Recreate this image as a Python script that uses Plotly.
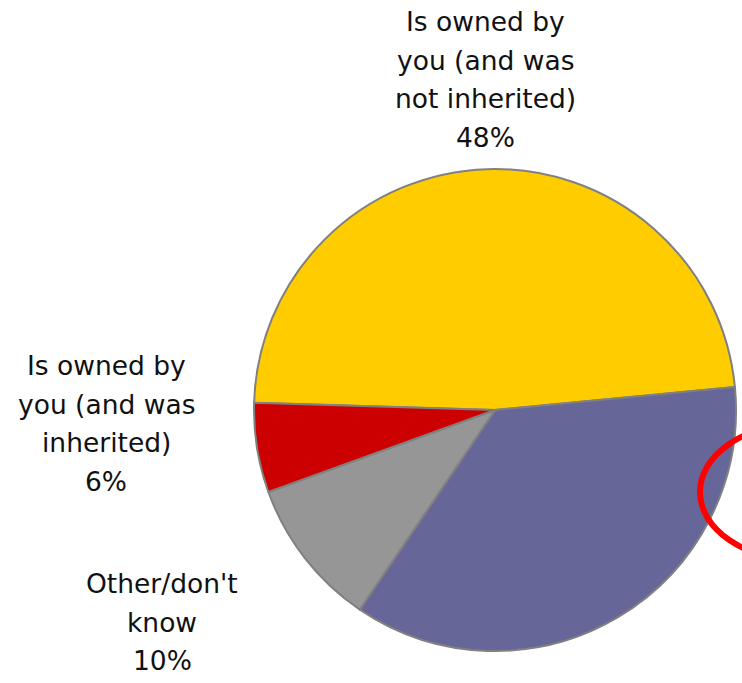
import plotly.graph_objects as go

# Pie data: share of respondents by ownership of the property
categories = ["Is owned by you (and was not inherited)", "Is rented", "Other/don't know",
              "Is owned by you (and was inherited)"]
values = [48, 36, 10, 6]
colors = ["#FFCC00", "#666699", "#969696", "#CC0000"]

# Wrapped label lines for the slices whose labels are shown
label_lines = {
    0: ["Is owned by", "you (and was", "not inherited)"],
    3: ["Is owned by", "you (and was", "inherited)"],
    2: ["Other/don't", "know"],
}

W, H = 742, 683
CX, CY, R = 495, 410, 241  # pie centre / radius in pixels

fig = go.Figure(go.Pie(
    labels=categories,
    values=values,
    sort=False,
    direction="clockwise",
    rotation=-88.3,
    marker=dict(colors=colors, line=dict(color="#808080", width=2)),
    textinfo="none",
    hoverinfo="label+percent",
    showlegend=False,
    domain=dict(x=[(CX - R) / W, (CX + R) / W],
                y=[(H - CY - R) / H, (H - CY + R) / H]),
))

# label block placement: (centre x, first baseline y) in pixels, line pitch
label_pos = {0: (485, 31.5), 3: (106, 375.5), 2: (162, 593.5)}
PITCH = 38.5
FS = 26.5

annotations = []
for idx, (lx, ly) in label_pos.items():
    lines = label_lines[idx] + [f"{values[idx]}%"]
    for k, line in enumerate(lines):
        base = ly + k * PITCH
        annotations.append(dict(
            text=line, xref="paper", yref="paper",
            x=lx / W, y=1 - (base - 0.36 * FS) / H,
            xanchor="center", yanchor="middle", showarrow=False,
            font=dict(family="DejaVu Sans", size=FS, color="#111111"),
        ))

# red highlight ellipse around the rented-share label
shapes = [dict(type="circle", xref="paper", yref="paper",
               x0=700 / W, x1=900 / W, y0=1 - 560 / H, y1=1 - 424 / H,
               line=dict(color="#FF0000", width=6), layer="above")]

fig.update_layout(
    width=W, height=H,
    margin=dict(l=0, r=0, t=0, b=0),
    paper_bgcolor="white", plot_bgcolor="white",
    annotations=annotations,
    shapes=shapes,
)

fig.write_html("out.html")
